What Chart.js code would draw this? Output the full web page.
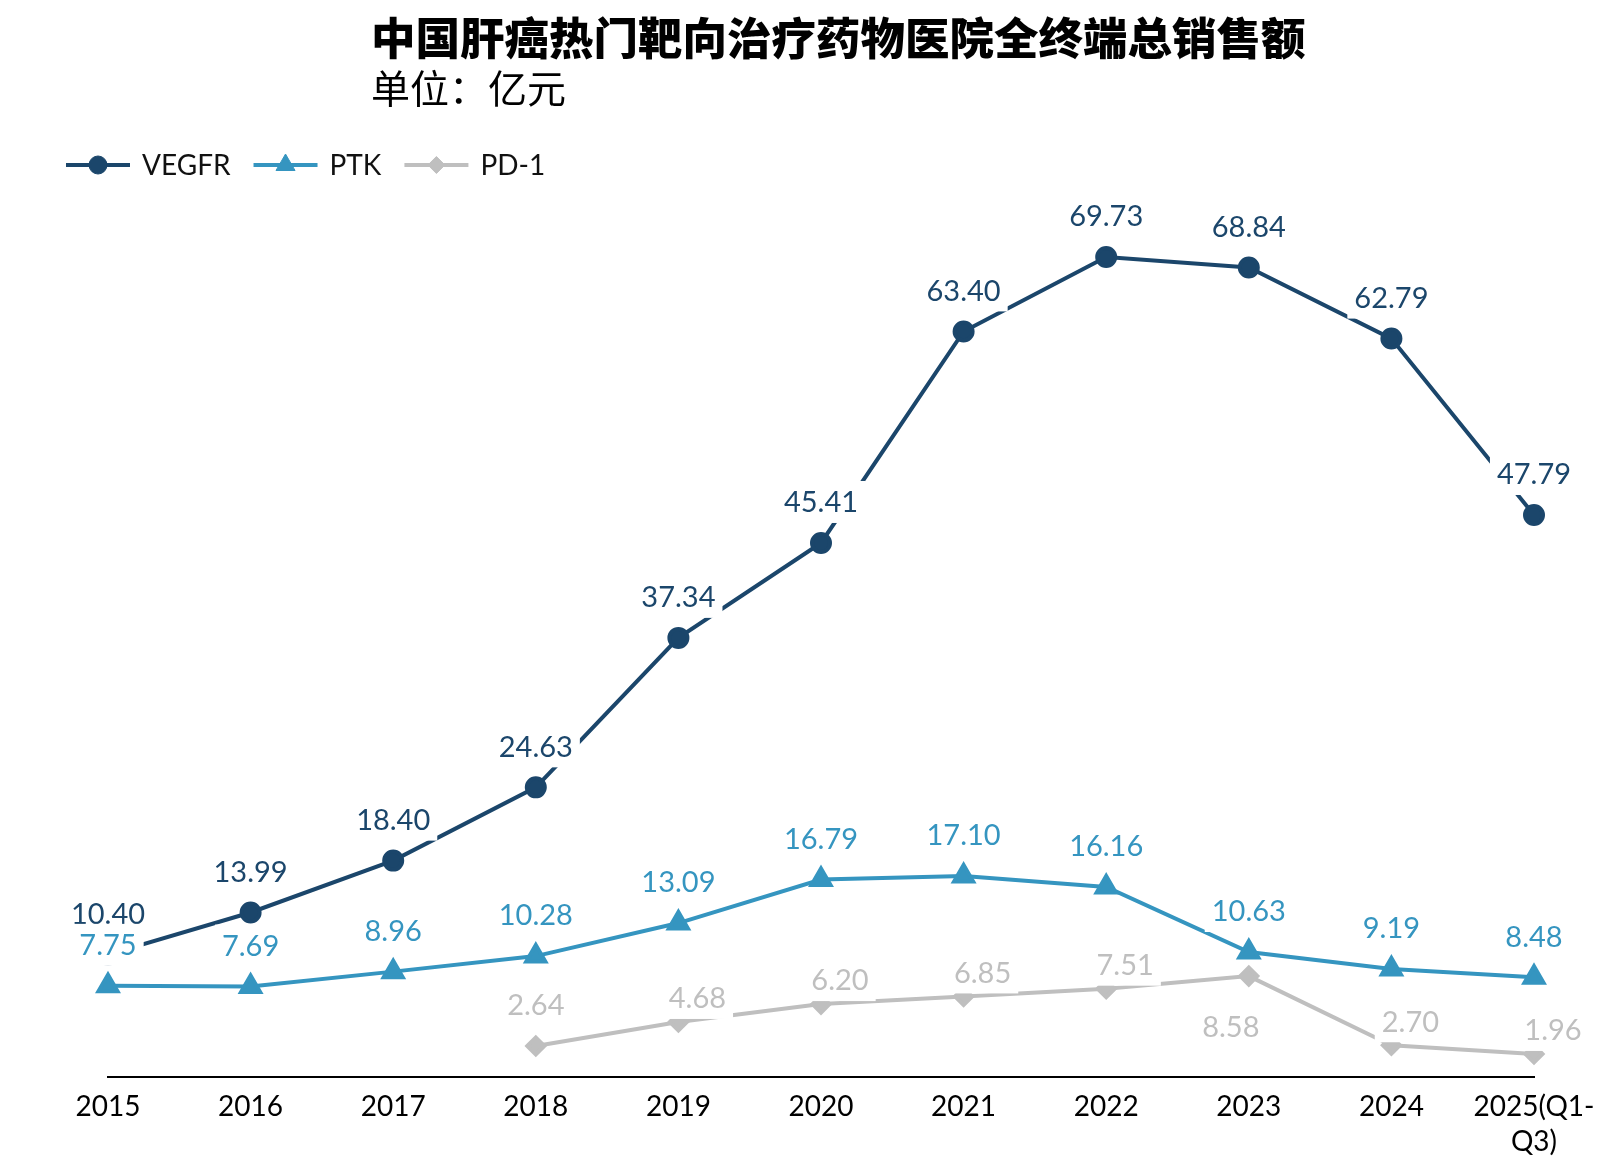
<!DOCTYPE html>
<html>
<head>
<meta charset="utf-8">
<script src="https://cdn.jsdelivr.net/npm/chart.js@4/dist/chart.umd.min.js"></script>
<style>
  html, body { margin: 0; padding: 0; background: #ffffff; }
  canvas { display: block; }
</style>
</head>
<body>
<canvas id="c" width="1616" height="1174"></canvas>
<script>
// ---- Data ----
const categories = ['2015', '2016', '2017', '2018', '2019', '2020', '2021', '2022', '2023', '2024', ['2025(Q1-', 'Q3)']];
const vegfrValues = [10.40, 13.99, 18.40, 24.63, 37.34, 45.41, 63.40, 69.73, 68.84, 62.79, 47.79];
const ptkValues   = [7.75, 7.69, 8.96, 10.28, 13.09, 16.79, 17.10, 16.16, 10.63, 9.19, 8.48];
const pd1Values   = [null, null, null, 2.64, 4.68, 6.20, 6.85, 7.51, 8.58, 2.70, 1.96];
const titleText = '中国肝癌热门靶向治疗药物医院全终端总销售额';
const subtitleText = '单位：亿元';

// ---- Label placement (style, kept apart from data) ----
const vegfrLabelPos = ['top','top','top','top','top','top','top','top','top','top','top'];
const ptkLabelPos   = ['top','top','top','top','top','top','top','top','top','top','top'];
const pd1LabelPos   = [null,null,null,'top','topRight','topRight','topRight','topRight','bottomLeft','topRight','topRight'];
const labelOffsets = {
  top:        { dx: 0,   dy: -41 },
  topRight:   { dx: 19,  dy: -24 },
  bottomLeft: { dx: -18, dy: 51 }
};

const C_VEGFR = '#1b466b';
const C_PTK = '#3595c0';
const C_PD1 = '#bfbfbf';

const LABEL_FONT = '29px Lato';

const overlayPlugin = {
  id: 'overlay',
  afterDatasetsDraw(chart) {
    const ctx = chart.ctx;
    ctx.save();
    ctx.font = LABEL_FONT;
    ctx.textAlign = 'center';
    ctx.textBaseline = 'middle';
    chart.data.datasets.forEach((ds, di) => {
      const meta = chart.getDatasetMeta(di);
      meta.data.forEach((pt, i) => {
        const v = ds.data[i];
        const pos = ds.labelPos[i];
        if (v == null || !pos) return;
        const off = labelOffsets[pos];
        const text = v.toFixed(2);
        const x = pt.x + off.dx, y = pt.y + off.dy;
        const w = ctx.measureText(text).width + 14, h = 42;
        ctx.fillStyle = '#ffffff';
        ctx.fillRect(x - w / 2, y - h / 2, w, h);
        ctx.fillStyle = ds.borderColor;
        ctx.fillText(text, x, y + 1);
      });
    });
    ctx.restore();
  },
  afterDraw(chart) {
    const ctx = chart.ctx;
    ctx.save();
    // Title & subtitle
    ctx.fillStyle = '#000000';
    ctx.textAlign = 'left';
    ctx.textBaseline = 'middle';
    ctx.font = '900 44.5px "Noto Sans CJK SC"';
    ctx.fillText(titleText, 371, 38);
    ctx.font = '39px "Noto Sans CJK SC"';
    ctx.fillText(subtitleText, 371, 88);
    // Legend
    let x = 66;
    const y = 165;
    ctx.font = '28px Lato';
    chart.data.datasets.forEach((ds) => {
      ctx.strokeStyle = ds.borderColor;
      ctx.lineWidth = ds.borderWidth;
      ctx.beginPath();
      ctx.moveTo(x, y);
      ctx.lineTo(x + 64, y);
      ctx.stroke();
      ctx.fillStyle = ds.pointBackgroundColor;
      ctx.strokeStyle = ds.pointBorderColor;
      ctx.lineWidth = 1;
      Chart.helpers.drawPoint(ctx, { pointStyle: ds.pointStyle, radius: ds.pointRadius, rotation: 0, borderWidth: 1 }, x + 32, y);
      ctx.fillStyle = '#111111';
      ctx.textAlign = 'left';
      ctx.fillText(ds.label, x + 76, y + 1);
      x += 76 + ctx.measureText(ds.label).width + 23;
    });
    ctx.restore();
  }
};

function build() {
  new Chart(document.getElementById('c'), {
    type: 'line',
    data: {
      labels: categories,
      datasets: [
        { label: 'VEGFR', data: vegfrValues, labelPos: vegfrLabelPos, borderColor: C_VEGFR, backgroundColor: C_VEGFR,
          pointBackgroundColor: C_VEGFR, pointBorderColor: C_VEGFR, pointStyle: 'circle', pointRadius: 9, borderWidth: 4 },
        { label: 'PTK', data: ptkValues, labelPos: ptkLabelPos, borderColor: C_PTK, backgroundColor: C_PTK,
          pointBackgroundColor: C_PTK, pointBorderColor: C_PTK, pointStyle: 'triangle', pointRadius: 11, borderWidth: 4 },
        { label: 'PD-1', data: pd1Values, labelPos: pd1LabelPos, borderColor: C_PD1, backgroundColor: C_PD1,
          pointBackgroundColor: C_PD1, pointBorderColor: C_PD1, pointStyle: 'rectRot', pointRadius: 8.5, borderWidth: 4 }
      ]
    },
    options: {
      responsive: false,
      animation: false,
      devicePixelRatio: 1,
      layout: { padding: { left: 108, right: 82, top: 195, bottom: 0 } },
      elements: { line: { tension: 0 } },
      plugins: { legend: { display: false }, tooltip: { enabled: false }, title: { display: false } },
      scales: {
        x: {
          offset: false,
          grid: { display: false, drawTicks: false },
          border: { display: true, color: '#000000', width: 2 },
          ticks: { color: '#000000', font: { family: 'Lato', size: 28, lineHeight: 1.25 }, padding: 12, maxRotation: 0, autoSkip: false },
          afterFit(scale) { scale.height = 97; }
        },
        y: { display: false, min: 0, max: 75 }
      }
    },
    plugins: [overlayPlugin]
  });
}

Promise.all([
  document.fonts.load('29px Lato'),
  document.fonts.load('900 44.5px "Noto Sans CJK SC"', titleText),
  document.fonts.load('39px "Noto Sans CJK SC"', subtitleText)
]).then(build, build);
</script>
</body>
</html>
